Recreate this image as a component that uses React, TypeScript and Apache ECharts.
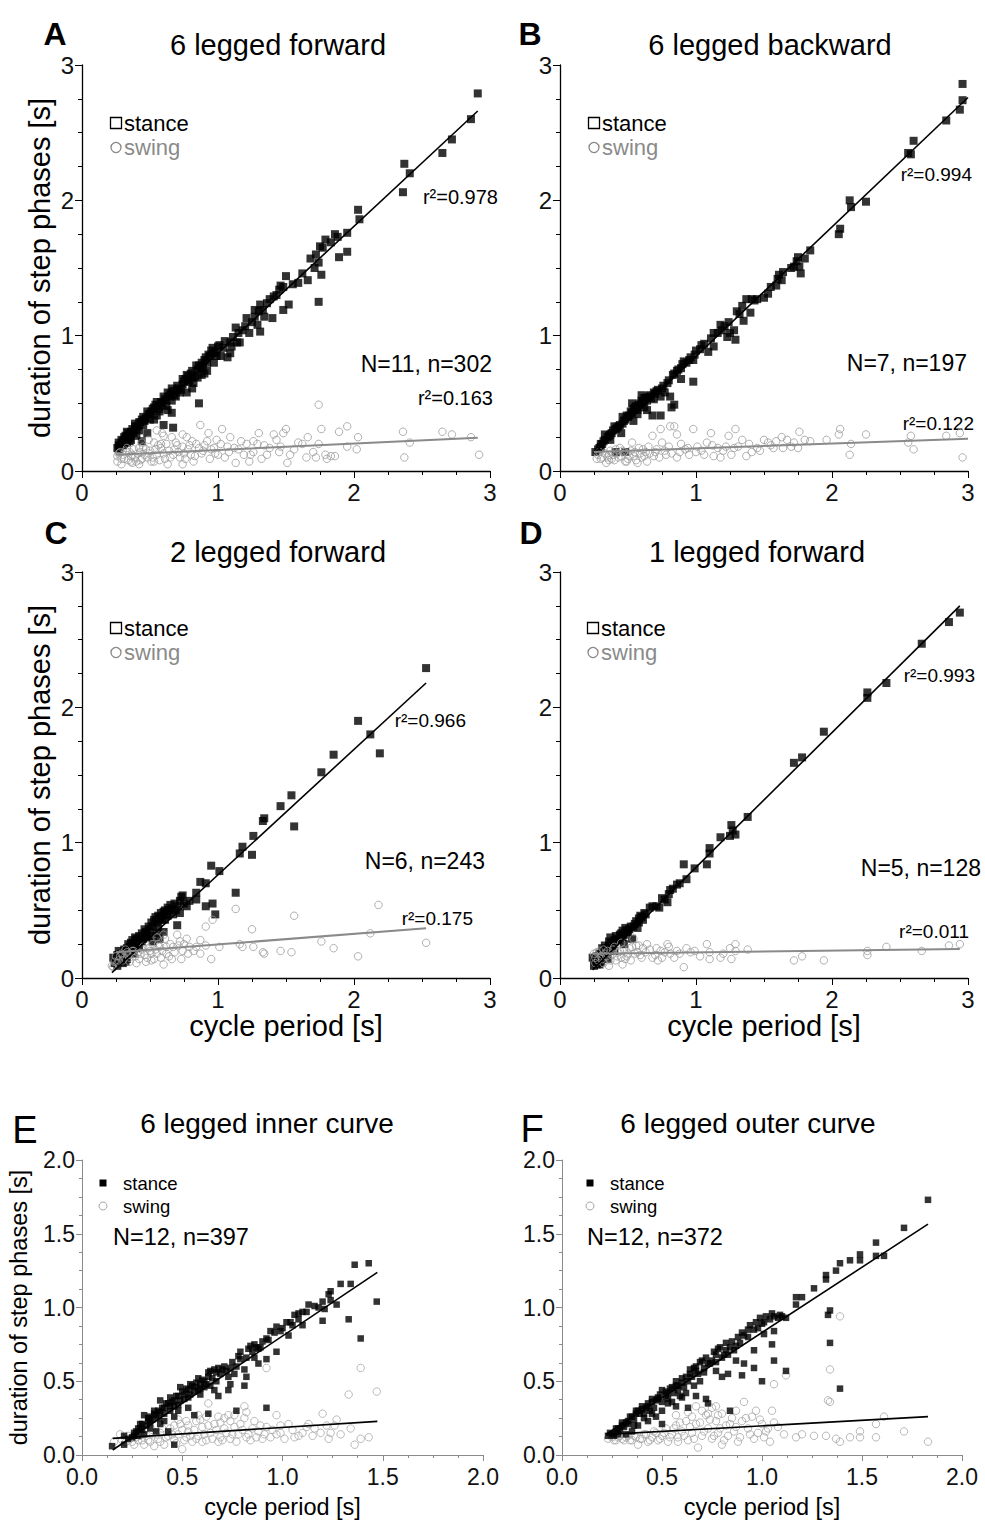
import React, { useEffect, useRef } from "react";
import * as echarts from "echarts";

const FONT = '"Liberation Sans", Arial, Helvetica, sans-serif';

// ---------- Panel A: 6 legged forward ----------
const aStance = [
  [2.91,2.79],[2.86,2.60],[2.72,2.45],[2.65,2.35],[2.37,2.27],[2.41,2.20],[2.36,2.06],[2.03,1.93],[2.04,1.86],[1.95,1.76],
  [1.86,1.75],[1.88,1.73],[1.89,1.58],[1.95,1.62],[1.79,1.71],[1.75,1.66],[1.72,1.60],[1.77,1.65],[1.74,1.54],[1.71,1.50],
  [1.76,1.45],[1.74,1.25],[1.66,1.41],[1.59,1.39],[1.50,1.44],[1.48,1.36],[1.45,1.34],[1.41,1.29],[1.38,1.27],[1.36,1.24],
  [1.52,1.23],[1.48,1.19],[1.31,1.23],[1.30,1.18],[1.27,1.19],[1.40,1.13],[1.34,1.14],[1.27,1.14],[1.21,1.13],[1.20,1.07],
  [1.23,1.02],[1.31,1.03],[1.29,1.08],[1.15,1.02],[1.13,1.06],[1.16,0.95],[1.10,0.92],[1.09,0.87],[1.07,0.84],[1.04,0.91],
  [1.00,0.92],[0.98,0.88],[0.97,0.87],[0.94,0.85],[0.92,0.80],[0.89,0.77],[0.87,0.76],[0.85,0.75],[0.81,0.74],[0.78,0.70],
  [0.76,0.68],[0.88,0.71],[0.92,0.74],[0.86,0.50],[0.82,0.65],[0.74,0.64],[0.71,0.61],[0.67,0.59],[0.64,0.55],[0.61,0.53],
  [0.59,0.50],[0.56,0.48],[0.54,0.49],[0.51,0.44],[0.49,0.42],[0.47,0.39],[0.44,0.38],[0.42,0.36],[0.39,0.33],[0.37,0.31],
  [0.34,0.28],[0.32,0.26],[0.29,0.23],[0.27,0.21],[0.26,0.17],[0.28,0.18],[0.66,0.43],[0.67,0.32],[0.60,0.34],[0.48,0.28],
  [0.44,0.22],[0.40,0.26],[0.66,0.52],[0.72,0.58],[0.77,0.58],[0.81,0.61],[0.63,0.45],[0.55,0.41],[0.53,0.38],[0.36,0.23],
  [0.33,0.21],[0.31,0.20],[0.38,0.28],[0.97,0.80],[1.02,0.85],[1.09,0.95],[1.14,0.95],[0.27,0.16],[0.30,0.19],[0.35,0.25],
  [0.30,0.22],[0.32,0.24],[0.34,0.26],[0.36,0.29],[0.41,0.33],[0.43,0.36],[0.45,0.40],[0.46,0.37],[0.50,0.42],[0.52,0.46],
  [0.57,0.46],[0.58,0.51],[0.62,0.52],[0.65,0.57],[0.68,0.56],[0.70,0.63],[0.73,0.60],[0.75,0.66],[0.79,0.67],[0.80,0.72],
  [0.83,0.70],[0.86,0.78],[0.90,0.82],[0.93,0.86],[0.95,0.89],[0.99,0.85],[1.01,0.93],[0.96,0.91],[0.90,0.72],[0.85,0.69],
  [0.78,0.66],[0.69,0.55],[0.62,0.48],[0.57,0.44],[0.50,0.38],[0.45,0.34],[0.42,0.30],[0.35,0.22],[0.29,0.20],[0.27,0.19],
  [0.31,0.25],[0.33,0.29],[0.39,0.35],[0.40,0.31],[0.48,0.44],[0.53,0.47],[0.55,0.51],[0.60,0.55],[0.63,0.58],[0.66,0.61],
  [0.70,0.60],[0.74,0.68],[0.77,0.71],[0.81,0.69],[0.84,0.78],[0.88,0.80],[0.91,0.84],[1.05,0.96],[1.11,0.99],[1.18,1.04],
  [1.25,1.10],[1.33,1.19],[1.43,1.30],[1.46,1.37],[1.55,1.38],[1.62,1.46],[1.68,1.57],[1.83,1.69]
];
const aSwing = [
  [2.92,0.12],[2.86,0.25],[2.72,0.27],[2.65,0.29],[2.41,0.21],[2.37,0.10],[2.36,0.29],[2.03,0.25],[2.02,0.16],[1.95,0.18],
  [1.95,0.33],[1.89,0.29],[1.86,0.11],[1.80,0.09],[1.79,0.12],[1.76,0.31],[1.74,0.49],[1.74,0.20],[1.72,0.10],[1.70,0.14],
  [1.66,0.25],[1.59,0.21],[1.50,0.31],[1.51,0.06],[1.48,0.28],[1.46,0.18],[1.41,0.27],[1.38,0.17],[1.36,0.12],[1.32,0.09],
  [1.30,0.28],[1.29,0.20],[1.26,0.14],[1.23,0.07],[1.21,0.20],[1.19,0.12],[1.15,0.16],[1.13,0.06],[1.09,0.25],[1.07,0.18],
  [1.03,0.31],[1.00,0.12],[0.99,0.23],[0.97,0.17],[0.94,0.09],[0.92,0.22],[0.89,0.15],[0.87,0.34],[0.86,0.17],[0.83,0.11],
  [0.81,0.22],[0.78,0.16],[0.76,0.09],[0.74,0.18],[0.71,0.14],[0.69,0.21],[0.66,0.25],[0.64,0.15],[0.61,0.09],[0.60,0.26],
  [0.58,0.17],[0.55,0.12],[0.53,0.21],[0.50,0.15],[0.48,0.10],[0.45,0.18],[0.43,0.14],[0.40,0.07],[0.38,0.16],[0.36,0.11],
  [0.33,0.17],[0.31,0.09],[0.28,0.14],[0.26,0.07],[0.26,0.11],[0.29,0.05],[0.37,0.06],[0.42,0.05],[0.51,0.07],[0.63,0.05],
  [0.67,0.12],[0.74,0.05],[0.82,0.07],[0.59,0.28],[0.55,0.30],[0.49,0.23],[0.44,0.21],[0.77,0.25],[0.74,0.27],[0.93,0.28],
  [1.12,0.17],[1.26,0.22],[1.45,0.14],[1.56,0.16],[1.83,0.11],[1.65,0.10],
  [0.27,0.13],[0.30,0.12],[0.32,0.15],[0.34,0.08],[0.35,0.14],[0.37,0.12],[0.39,0.10],[0.41,0.13],[0.42,0.17],[0.44,0.09],
  [0.46,0.12],[0.47,0.16],[0.49,0.13],[0.52,0.10],[0.54,0.16],[0.56,0.19],[0.57,0.08],[0.60,0.13],[0.62,0.20],[0.65,0.10],
  [0.68,0.16],[0.70,0.19],[0.72,0.10],[0.75,0.13],[0.79,0.19],[0.80,0.12],[0.84,0.20],[0.88,0.13],[0.90,0.19],[0.95,0.16],
  [0.98,0.13],[1.02,0.20],[1.05,0.10],[1.08,0.14],[1.17,0.22],[1.24,0.12],[1.34,0.19],[1.43,0.23],[1.53,0.12],[1.62,0.20],
  [0.29,0.09],[0.36,0.07],[0.43,0.08],[0.53,0.07],[0.58,0.20]
];
const aStanceLine = [[0.25,0.17],[2.91,2.66]];
const aSwingLine = [[0.25,0.12],[2.91,0.246]];

// ---------- Panel B: 6 legged backward ----------
const bStance = [
  [2.96,2.86],[2.96,2.74],[2.94,2.67],[2.84,2.59],[2.60,2.44],[2.58,2.34],[2.56,2.35],[2.25,1.99],[2.13,2.00],[2.14,1.95],
  [2.06,1.79],[2.05,1.75],[1.84,1.63],[1.80,1.57],[1.75,1.58],[1.76,1.51],[1.77,1.46],[1.72,1.51],[1.64,1.47],[1.63,1.41],
  [1.60,1.42],[1.59,1.37],[1.53,1.31],[1.50,1.28],[1.45,1.27],[1.41,1.27],[1.37,1.27],[1.40,1.17],[1.34,1.22],[1.30,1.18],
  [1.35,1.11],[1.28,1.04],[1.29,0.97],[1.25,1.02],[1.23,0.99],[1.19,1.04],[1.18,1.08],[1.13,1.02],[1.13,0.92],[1.09,0.88],
  [1.04,0.93],[1.03,0.90],[0.99,0.86],[0.98,0.82],[0.95,0.82],[0.91,0.81],[0.89,0.76],[0.86,0.74],[0.84,0.72],[0.98,0.66],
  [0.89,0.68],[0.79,0.65],[0.75,0.61],[0.71,0.59],[0.69,0.58],[0.65,0.55],[0.63,0.54],[0.60,0.52],[0.81,0.55],[0.84,0.49],
  [0.82,0.47],[0.74,0.41],[0.68,0.41],[0.58,0.49],[0.55,0.47],[0.53,0.43],[0.51,0.41],[0.48,0.38],[0.46,0.35],[0.43,0.33],
  [0.41,0.31],[0.38,0.28],[0.36,0.26],[0.33,0.23],[0.31,0.20],[0.29,0.17],[0.26,0.14],[0.33,0.27],[0.41,0.14],[0.48,0.14],
  [0.49,0.41],[0.57,0.42],[0.64,0.45],[0.69,0.53],[0.74,0.55],[0.77,0.58],[0.62,0.47],[0.54,0.37],[0.45,0.28],[0.37,0.23],
  [0.30,0.18],
  [0.28,0.16],[0.30,0.20],[0.32,0.22],[0.35,0.25],[0.37,0.27],[0.39,0.30],[0.42,0.32],[0.44,0.34],[0.47,0.37],[0.50,0.40],
  [0.52,0.44],[0.54,0.46],[0.56,0.48],[0.59,0.50],[0.61,0.51],[0.62,0.54],[0.64,0.52],[0.66,0.56],[0.67,0.54],[0.70,0.57],
  [0.72,0.60],[0.76,0.63],[0.80,0.67],[0.83,0.71],[0.87,0.75],[0.90,0.79],[0.93,0.80],[0.96,0.84],[1.00,0.89],[1.06,0.94],
  [1.11,0.98],[1.16,1.02],[1.21,1.07],[1.24,1.10],[1.32,1.16],[1.43,1.26],[1.55,1.36],[1.61,1.45],[1.70,1.50],[1.74,1.55],
  [0.57,0.45],[0.53,0.50],[0.60,0.56],[0.46,0.40],[0.40,0.33]
];
const bSwing = [
  [2.96,0.10],[2.94,0.28],[2.84,0.26],[2.60,0.16],[2.58,0.26],[2.56,0.21],[2.25,0.27],[2.13,0.12],[2.14,0.20],[2.06,0.31],
  [2.05,0.27],[1.84,0.22],[1.80,0.23],[1.76,0.29],[1.75,0.17],[1.72,0.21],[1.64,0.17],[1.63,0.25],[1.59,0.22],[1.53,0.21],
  [1.50,0.23],[1.45,0.17],[1.41,0.14],[1.37,0.11],[1.34,0.23],[1.29,0.31],[1.26,0.12],[1.24,0.26],[1.22,0.18],[1.18,0.10],
  [1.13,0.11],[1.11,0.28],[1.08,0.21],[1.04,0.15],[1.01,0.18],[0.98,0.31],[0.95,0.12],[0.92,0.16],[0.89,0.20],[0.86,0.27],
  [0.84,0.33],[0.81,0.33],[0.80,0.18],[0.78,0.12],[0.75,0.21],[0.74,0.31],[0.71,0.16],[0.69,0.11],[0.68,0.26],[0.65,0.18],
  [0.63,0.14],[0.60,0.10],[0.58,0.17],[0.55,0.14],[0.53,0.21],[0.51,0.11],[0.48,0.07],[0.46,0.15],[0.43,0.10],[0.41,0.16],
  [0.38,0.09],[0.36,0.12],[0.34,0.06],[0.31,0.10],[0.29,0.14],[0.27,0.09],[0.49,0.07],[0.57,0.06],[0.64,0.07],[0.86,0.10],
  [1.16,0.17],[1.31,0.18],[1.47,0.15],[1.57,0.17],[1.67,0.23],[1.96,0.23],
  [0.28,0.12],[0.30,0.09],[0.33,0.13],[0.35,0.10],[0.37,0.15],[0.39,0.12],[0.40,0.08],[0.42,0.13],[0.45,0.11],[0.47,0.14],
  [0.50,0.09],[0.52,0.15],[0.54,0.11],[0.56,0.08],[0.59,0.13],[0.61,0.16],[0.62,0.11],[0.66,0.13],[0.70,0.14],[0.73,0.10],
  [0.77,0.15],[0.82,0.13],[0.88,0.14],[0.94,0.17],[1.00,0.14],[1.06,0.12],[1.12,0.19],[1.20,0.15],[1.28,0.17],[1.39,0.20],
  [1.55,0.19],[1.70,0.18],[0.44,0.17],[0.36,0.08]
];
const bStanceLine = [[0.25,0.13],[3.0,2.76]];
const bSwingLine = [[0.25,0.14],[3.0,0.238]];

// ---------- Panel C: 2 legged forward ----------
const cStance = [
  [2.53,2.29],[2.03,1.90],[2.12,1.80],[2.19,1.66],[1.85,1.65],[1.76,1.52],[1.54,1.35],[1.46,1.27],[1.56,1.12],[1.34,1.18],
  [1.33,1.16],[1.26,1.05],[1.18,0.97],[1.16,0.92],[1.25,0.91],[1.13,0.63],[1.01,0.79],[0.95,0.83],[0.91,0.70],[0.87,0.71],
  [0.84,0.63],[0.96,0.55],[0.91,0.53],[0.98,0.47],[0.79,0.57],[0.74,0.61],[0.72,0.57],[0.70,0.53],[0.66,0.51],[0.63,0.52],
  [0.60,0.49],[0.72,0.48],[0.70,0.39],[0.61,0.43],[0.57,0.44],[0.55,0.41],[0.52,0.38],[0.50,0.35],[0.60,0.34],[0.48,0.32],
  [0.45,0.29],[0.40,0.29],[0.38,0.25],[0.35,0.23],[0.32,0.19],[0.28,0.15],[0.23,0.15],[0.24,0.11],[0.30,0.11],[0.27,0.20],
  [0.55,0.33],[0.57,0.29],[0.52,0.27],[0.42,0.23],[0.38,0.18],[0.33,0.14],[0.63,0.46],[0.67,0.47],[0.77,0.53],[0.84,0.58],
  [0.25,0.13],[0.26,0.17],[0.29,0.18],[0.31,0.21],[0.33,0.22],[0.34,0.25],[0.36,0.26],[0.37,0.28],[0.39,0.30],[0.41,0.26],
  [0.42,0.31],[0.44,0.33],[0.46,0.36],[0.47,0.34],[0.49,0.38],[0.51,0.41],[0.53,0.43],[0.54,0.45],[0.56,0.46],[0.58,0.48],
  [0.59,0.43],[0.61,0.50],[0.62,0.47],[0.64,0.50],[0.65,0.54],[0.68,0.55],[0.69,0.50],[0.73,0.60],[0.75,0.55],[0.56,0.38],
  [0.50,0.31],[0.44,0.27],[0.36,0.20],[0.29,0.13],[0.26,0.09],[0.32,0.12],[0.40,0.22],[0.47,0.30]
];
const cSwing = [
  [2.53,0.26],[2.18,0.54],[2.12,0.33],[2.03,0.16],[1.85,0.22],[1.76,0.27],[1.56,0.46],[1.54,0.19],[1.46,0.20],[1.34,0.18],
  [1.33,0.19],[1.26,0.23],[1.25,0.36],[1.18,0.23],[1.16,0.25],[1.13,0.51],[1.01,0.23],[0.95,0.14],[0.96,0.43],[0.91,0.38],
  [0.91,0.24],[0.87,0.18],[0.84,0.23],[0.79,0.23],[0.77,0.29],[0.74,0.20],[0.72,0.27],[0.70,0.32],[0.67,0.23],[0.65,0.25],
  [0.62,0.18],[0.60,0.10],[0.57,0.23],[0.55,0.18],[0.52,0.25],[0.50,0.20],[0.48,0.15],[0.45,0.23],[0.43,0.18],[0.40,0.11],
  [0.38,0.20],[0.35,0.15],[0.33,0.19],[0.30,0.13],[0.28,0.16],[0.26,0.11],[0.23,0.08],[0.22,0.09],[0.51,0.13],[0.66,0.14],
  [0.73,0.14],[0.87,0.28],[0.61,0.29],
  [0.24,0.12],[0.25,0.16],[0.27,0.13],[0.29,0.18],[0.31,0.15],[0.32,0.21],[0.34,0.17],[0.35,0.12],[0.37,0.20],[0.39,0.16],
  [0.41,0.19],[0.42,0.14],[0.44,0.21],[0.46,0.17],[0.47,0.12],[0.49,0.22],[0.51,0.18],[0.53,0.14],[0.54,0.21],[0.56,0.25],
  [0.58,0.15],[0.59,0.20],[0.62,0.23],[0.64,0.16],[0.68,0.19],[0.71,0.24],[0.75,0.25],[0.78,0.18],[0.82,0.20],[0.55,0.30],
  [0.60,0.32]
];
const cStanceLine = [[0.22,0.04],[2.53,2.18]];
const cSwingLine = [[0.25,0.19],[2.53,0.367]];

// ---------- Panel D: 1 legged forward ----------
const dStance = [
  [2.94,2.70],[2.86,2.63],[2.66,2.47],[2.40,2.18],[2.26,2.11],[2.26,2.07],[1.94,1.82],[1.78,1.63],[1.72,1.59],[1.38,1.19],
  [1.29,1.06],[1.27,1.09],[1.26,1.13],[1.25,1.05],[1.18,1.04],[1.10,0.92],[1.10,0.96],[1.08,0.84],[0.99,0.81],[0.93,0.73],
  [0.91,0.84],[0.88,0.70],[0.86,0.69],[0.81,0.65],[0.80,0.62],[0.79,0.56],[0.75,0.59],[0.71,0.53],[0.68,0.53],[0.63,0.47],
  [0.61,0.43],[0.59,0.46],[0.58,0.41],[0.57,0.37],[0.54,0.38],[0.52,0.38],[0.50,0.34],[0.48,0.37],[0.46,0.35],[0.44,0.32],
  [0.42,0.29],[0.40,0.28],[0.37,0.30],[0.36,0.27],[0.33,0.24],[0.31,0.22],[0.29,0.18],[0.26,0.14],[0.24,0.15],[0.25,0.09],
  [0.29,0.10],[0.35,0.14],[0.40,0.20],[0.47,0.25],[0.53,0.29],[0.47,0.32],
  [0.26,0.12],[0.27,0.16],[0.28,0.13],[0.30,0.17],[0.32,0.20],[0.33,0.18],[0.34,0.22],[0.36,0.24],[0.38,0.26],[0.39,0.24],
  [0.41,0.31],[0.43,0.28],[0.45,0.33],[0.46,0.30],[0.49,0.35],[0.51,0.36],[0.55,0.40],[0.56,0.42],[0.58,0.44],[0.60,0.45],
  [0.62,0.48],[0.66,0.52],[0.73,0.52],[0.77,0.58],[0.83,0.66],[0.30,0.12],[0.27,0.10],[0.34,0.17]
];
const dSwing = [
  [2.94,0.25],[2.86,0.24],[2.66,0.20],[2.40,0.23],[2.26,0.20],[2.26,0.17],[1.94,0.13],[1.78,0.16],[1.72,0.13],[1.38,0.21],
  [1.29,0.25],[1.29,0.20],[1.26,0.14],[1.25,0.22],[1.18,0.15],[1.10,0.19],[1.10,0.14],[1.08,0.25],[0.99,0.20],[0.93,0.22],
  [0.91,0.08],[0.88,0.18],[0.86,0.20],[0.81,0.18],[0.80,0.23],[0.79,0.25],[0.75,0.15],[0.74,0.20],[0.71,0.22],[0.68,0.15],
  [0.64,0.25],[0.61,0.22],[0.60,0.15],[0.58,0.24],[0.57,0.19],[0.54,0.29],[0.53,0.23],[0.50,0.18],[0.48,0.14],[0.46,0.10],
  [0.44,0.20],[0.42,0.16],[0.40,0.23],[0.37,0.13],[0.36,0.09],[0.33,0.18],[0.31,0.14],[0.29,0.20],[0.26,0.11],[0.25,0.18],
  [0.26,0.15],[0.27,0.19],[0.28,0.13],[0.30,0.16],[0.32,0.11],[0.32,0.21],[0.34,0.16],[0.35,0.20],[0.38,0.17],[0.39,0.21],
  [0.41,0.13],[0.43,0.19],[0.45,0.15],[0.47,0.21],[0.49,0.16],[0.51,0.22],[0.52,0.13],[0.55,0.18],[0.56,0.24],[0.59,0.17],
  [0.63,0.19],[0.66,0.21],[0.70,0.17],[0.72,0.13],[0.77,0.19],[0.84,0.15],[0.96,0.19],[1.03,0.16],[1.20,0.18],[0.45,0.26]
];
const dStanceLine = [[0.24,0.06],[2.94,2.75]];
const dSwingLine = [[0.24,0.18],[2.94,0.215]];

// ---------- Panel E: 6 legged inner curve ----------
const eStance = [
  [1.36,1.29],[1.43,1.30],[1.47,1.04],[1.29,1.16],[1.34,1.16],[1.33,0.92],[1.39,0.79],[1.24,1.11],[1.23,1.09],[1.24,1.05],
  [1.27,1.02],[1.20,1.04],[1.20,0.91],[1.16,1.01],[1.13,1.02],[1.10,0.97],[1.10,0.88],[1.06,0.95],[1.04,0.90],[1.03,0.81],
  [0.99,0.84],[0.97,0.87],[0.94,0.84],[0.92,0.79],[0.97,0.70],[0.90,0.77],[0.88,0.72],[0.87,0.73],[0.84,0.74],[0.83,0.72],
  [0.88,0.62],[0.92,0.65],[0.79,0.65],[0.78,0.67],[0.81,0.58],[0.81,0.47],[0.82,0.53],[0.74,0.59],[0.73,0.53],[0.70,0.58],
  [0.68,0.59],[0.67,0.56],[0.64,0.57],[0.63,0.53],[0.61,0.50],[0.59,0.48],[0.58,0.52],[0.56,0.46],[0.54,0.48],[0.53,0.44],
  [0.51,0.41],[0.49,0.46],[0.48,0.40],[0.46,0.37],[0.44,0.39],[0.43,0.35],[0.41,0.32],[0.39,0.37],[0.38,0.30],[0.36,0.28],
  [0.34,0.26],[0.33,0.23],[0.31,0.27],[0.29,0.21],[0.28,0.18],[0.26,0.15],[0.25,0.12],[0.21,0.13],[0.21,0.07],[0.15,0.06],
  [0.37,0.16],[0.43,0.16],[0.46,0.07],[0.56,0.27],[0.63,0.28],[0.77,0.30],[0.92,0.32],[0.68,0.40],[0.66,0.44],[0.59,0.41],
  [0.53,0.32],[0.48,0.30],[0.46,0.26],[0.41,0.23],[0.39,0.21],[0.34,0.18],[0.31,0.14],[0.28,0.13],[0.76,0.55],[0.86,0.66],
  [1.02,0.90],[1.08,0.92],[0.73,0.44],[0.74,0.48],
  [0.27,0.16],[0.29,0.18],[0.30,0.21],[0.32,0.20],[0.33,0.25],[0.35,0.24],[0.36,0.30],[0.37,0.27],[0.39,0.29],[0.40,0.32],
  [0.41,0.28],[0.42,0.35],[0.44,0.33],[0.45,0.36],[0.46,0.33],[0.47,0.40],[0.49,0.37],[0.50,0.43],[0.51,0.38],[0.52,0.45],
  [0.54,0.41],[0.55,0.47],[0.56,0.43],[0.57,0.49],[0.59,0.45],[0.60,0.51],[0.62,0.48],[0.63,0.56],[0.65,0.52],[0.66,0.58],
  [0.67,0.50],[0.69,0.55],[0.71,0.60],[0.72,0.57],[0.75,0.63],[0.77,0.60],[0.79,0.70],[0.82,0.66],[0.85,0.70],[0.86,0.75],
  [0.89,0.73],[0.93,0.78],[0.96,0.83],[1.00,0.86],[1.05,0.88],[1.08,0.96],[1.12,0.97],[1.18,1.00],[1.21,0.99],[0.44,0.30],
  [0.48,0.34],[0.53,0.39],[0.58,0.44],[0.61,0.46],[0.64,0.47],[0.38,0.25],[0.34,0.22],[0.30,0.17],[0.26,0.13],[0.23,0.11]
];
const eSwing = [
  [1.47,0.43],[1.39,0.59],[1.33,0.41],[1.34,0.18],[1.36,0.07],[1.43,0.12],[1.29,0.14],[1.27,0.24],[1.24,0.15],[1.23,0.11],
  [1.20,0.28],[1.19,0.15],[1.16,0.18],[1.13,0.21],[1.10,0.15],[1.06,0.12],[1.03,0.21],[0.99,0.15],[0.97,0.14],[0.97,0.27],
  [0.94,0.12],[0.92,0.19],[0.92,0.59],[0.90,0.11],[0.88,0.16],[0.86,0.23],[0.84,0.10],[0.83,0.14],[0.81,0.33],[0.79,0.21],
  [0.78,0.14],[0.76,0.19],[0.74,0.11],[0.73,0.27],[0.71,0.18],[0.69,0.12],[0.68,0.09],[0.66,0.21],[0.64,0.15],[0.63,0.35],
  [0.62,0.10],[0.60,0.19],[0.58,0.13],[0.57,0.23],[0.55,0.09],[0.53,0.16],[0.52,0.12],[0.50,0.04],[0.49,0.21],[0.48,0.14],
  [0.46,0.10],[0.44,0.18],[0.43,0.13],[0.41,0.07],[0.39,0.15],[0.38,0.11],[0.36,0.06],[0.34,0.14],[0.33,0.10],[0.31,0.07],
  [0.29,0.13],[0.28,0.10],[0.26,0.07],[0.24,0.11],[0.22,0.09],[0.19,0.14],[0.16,0.09],[0.58,0.27],[0.52,0.23],[0.76,0.27],
  [0.99,0.20],[1.26,0.20],[1.39,0.11],[0.68,0.26],[0.82,0.29],
  [0.20,0.10],[0.23,0.13],[0.25,0.09],[0.27,0.12],[0.30,0.10],[0.32,0.13],[0.34,0.09],[0.35,0.17],[0.37,0.14],[0.39,0.09],
  [0.40,0.18],[0.42,0.12],[0.45,0.14],[0.46,0.20],[0.47,0.08],[0.50,0.17],[0.51,0.10],[0.53,0.20],[0.54,0.13],[0.56,0.17],
  [0.57,0.11],[0.59,0.24],[0.60,0.09],[0.61,0.14],[0.63,0.20],[0.65,0.11],[0.67,0.17],[0.69,0.22],[0.70,0.10],[0.72,0.15],
  [0.74,0.23],[0.75,0.14],[0.77,0.09],[0.80,0.17],[0.82,0.12],[0.85,0.18],[0.87,0.12],[0.89,0.20],[0.91,0.14],[0.95,0.17],
  [1.01,0.11],[1.05,0.17],[1.08,0.13],[1.12,0.19],[1.15,0.13],[1.22,0.20],[0.81,0.25],[0.71,0.25],[0.62,0.26],[0.48,0.24]
];
const eStanceLine = [[0.153,0.034],[1.473,1.238]];
const eSwingLine = [[0.153,0.113],[1.473,0.228]];

// ---------- Panel F: 6 legged outer curve ----------
const fStance = [
  [1.83,1.73],[1.71,1.54],[1.57,1.44],[1.57,1.35],[1.61,1.35],[1.49,1.36],[1.49,1.32],[1.44,1.32],[1.39,1.30],[1.37,1.25],
  [1.32,1.22],[1.32,1.19],[1.26,1.13],[1.20,1.07],[1.17,1.07],[1.17,1.02],[1.34,0.98],[1.33,0.95],[1.34,0.76],[1.39,0.45],
  [1.12,0.93],[1.09,0.95],[1.06,0.94],[1.06,0.84],[1.05,0.75],[1.06,0.64],[1.12,0.57],[1.04,0.92],[1.01,0.90],[1.00,0.89],
  [0.98,0.86],[1.01,0.82],[1.00,0.50],[0.96,0.85],[0.93,0.85],[0.93,0.80],[0.90,0.83],[0.89,0.76],[0.96,0.71],[0.91,0.62],
  [0.96,0.59],[0.90,0.54],[0.87,0.74],[0.84,0.73],[0.83,0.68],[0.82,0.71],[0.80,0.66],[0.78,0.72],[0.77,0.68],[0.75,0.64],
  [0.73,0.62],[0.71,0.59],[0.69,0.63],[0.67,0.57],[0.66,0.59],[0.64,0.55],[0.83,0.55],[0.80,0.53],[0.77,0.57],[0.72,0.38],
  [0.73,0.35],[0.67,0.40],[0.63,0.32],[0.57,0.33],[0.62,0.53],[0.60,0.49],[0.58,0.47],[0.57,0.50],[0.55,0.46],[0.53,0.42],
  [0.52,0.40],[0.50,0.44],[0.48,0.39],[0.47,0.37],[0.45,0.38],[0.43,0.35],[0.42,0.32],[0.40,0.33],[0.38,0.30],[0.37,0.28],
  [0.35,0.26],[0.33,0.23],[0.32,0.22],[0.30,0.20],[0.28,0.18],[0.27,0.16],[0.25,0.14],[0.23,0.13],[0.50,0.21],[0.47,0.26],
  [0.43,0.23],[0.38,0.20],[0.35,0.16],[0.32,0.14],[0.84,0.30],[0.50,0.30],[0.53,0.35],[0.60,0.39],[0.87,0.64],
  [0.24,0.15],[0.26,0.13],[0.27,0.18],[0.29,0.17],[0.30,0.22],[0.31,0.19],[0.33,0.21],[0.34,0.26],[0.36,0.24],[0.37,0.30],
  [0.39,0.28],[0.40,0.31],[0.41,0.28],[0.43,0.33],[0.44,0.30],[0.45,0.36],[0.46,0.32],[0.48,0.38],[0.49,0.41],[0.50,0.36],
  [0.52,0.43],[0.53,0.38],[0.54,0.45],[0.56,0.42],[0.57,0.47],[0.58,0.44],[0.60,0.52],[0.61,0.46],[0.63,0.50],[0.64,0.58],
  [0.65,0.53],[0.67,0.60],[0.68,0.55],[0.70,0.64],[0.71,0.56],[0.72,0.66],[0.74,0.62],[0.76,0.70],[0.77,0.63],[0.79,0.73],
  [0.81,0.68],[0.82,0.76],[0.85,0.77],[0.86,0.71],[0.88,0.80],[0.91,0.81],[0.94,0.88],[0.97,0.90],[0.99,0.93],[1.02,0.94],
  [1.05,0.96],[1.08,0.93],[1.10,0.94],[0.55,0.36],[0.59,0.40],[0.62,0.42],[0.66,0.47],[0.69,0.50],[0.45,0.28],[0.41,0.25],
  [0.36,0.20],[0.28,0.14]
];
const fSwing = [
  [1.83,0.09],[1.71,0.16],[1.61,0.26],[1.57,0.21],[1.57,0.12],[1.49,0.16],[1.49,0.12],[1.44,0.12],[1.39,0.94],[1.39,0.09],
  [1.37,0.11],[1.34,0.58],[1.33,0.37],[1.34,0.36],[1.32,0.13],[1.26,0.13],[1.20,0.14],[1.17,0.12],[1.12,0.54],[1.06,0.48],
  [1.06,0.22],[1.05,0.30],[1.03,0.18],[1.01,0.12],[1.00,0.21],[0.98,0.15],[0.97,0.30],[0.96,0.11],[0.93,0.18],[0.91,0.36],
  [0.90,0.23],[0.88,0.09],[0.86,0.16],[0.85,0.25],[0.83,0.13],[0.82,0.20],[0.80,0.07],[0.78,0.15],[0.77,0.23],[0.75,0.11],
  [0.73,0.18],[0.72,0.27],[0.70,0.13],[0.68,0.05],[0.67,0.21],[0.65,0.15],[0.63,0.10],[0.62,0.23],[0.60,0.16],[0.58,0.12],
  [0.57,0.20],[0.55,0.14],[0.53,0.09],[0.52,0.18],[0.50,0.13],[0.48,0.10],[0.47,0.15],[0.45,0.12],[0.43,0.09],[0.42,0.14],
  [0.40,0.11],[0.38,0.07],[0.37,0.12],[0.35,0.10],[0.33,0.13],[0.31,0.10],[0.28,0.12],[0.26,0.10],[0.23,0.11],[0.67,0.33],
  [0.77,0.33],[0.87,0.30],[0.63,0.29],[0.80,0.28],[0.95,0.26],[0.73,0.28],
  [0.25,0.12],[0.27,0.10],[0.29,0.13],[0.30,0.11],[0.32,0.12],[0.34,0.10],[0.36,0.13],[0.39,0.11],[0.41,0.14],[0.44,0.10],
  [0.46,0.16],[0.49,0.11],[0.51,0.15],[0.54,0.12],[0.56,0.18],[0.58,0.09],[0.59,0.22],[0.61,0.13],[0.64,0.19],[0.66,0.11],
  [0.69,0.22],[0.71,0.16],[0.74,0.24],[0.76,0.13],[0.78,0.27],[0.79,0.18],[0.81,0.10],[0.84,0.21],[0.87,0.19],[0.89,0.12],
  [0.92,0.25],[0.94,0.14],[0.99,0.24],[1.02,0.16],[1.04,0.09],[1.08,0.19],[1.11,0.14],[0.70,0.30],[0.75,0.32],[0.65,0.26],
  [0.57,0.27]
];
const fStanceLine = [[0.22,0.14],[1.83,1.565]];
const fSwingLine = [[0.23,0.14],[1.83,0.26]];

// ---------- panel texts ----------
const panelLetters = ["A", "B", "C", "D", "E", "F"];
const panelTitles = ["6 legged forward", "6 legged backward", "2 legged forward", "1 legged forward", "6 legged inner curve", "6 legged outer curve"];
const sampleLabels = ["N=11, n=302", "N=7, n=197", "N=6, n=243", "N=5, n=128", "N=12, n=397", "N=12, n=372"];
const stanceR2 = ["r²=0.978", "r²=0.994", "r²=0.966", "r²=0.993"];
const swingR2 = ["r²=0.163", "r²=0.122", "r²=0.175", "r²=0.011"];
const yAxisName = "duration of step phases [s]";
const xAxisName = "cycle period [s]";
const legendNames = ["stance", "swing"];

type Panel = {
  grid: { left: number; top: number; width: number; height: number };
  big: boolean;
  yName: boolean;
  xName: boolean;
  stance: number[][];
  swing: number[][];
  stanceLine: number[][];
  swingLine: number[][];
};

const panels: Panel[] = [
  { grid: { left: 82, top: 65, width: 408, height: 406 }, big: true, yName: true, xName: false, stance: aStance, swing: aSwing, stanceLine: aStanceLine, swingLine: aSwingLine },
  { grid: { left: 560, top: 65, width: 408, height: 406 }, big: true, yName: false, xName: false, stance: bStance, swing: bSwing, stanceLine: bStanceLine, swingLine: bSwingLine },
  { grid: { left: 82, top: 572, width: 408, height: 406 }, big: true, yName: true, xName: true, stance: cStance, swing: cSwing, stanceLine: cStanceLine, swingLine: cSwingLine },
  { grid: { left: 560, top: 572, width: 408, height: 406 }, big: true, yName: false, xName: true, stance: dStance, swing: dSwing, stanceLine: dStanceLine, swingLine: dSwingLine },
  { grid: { left: 82, top: 1160, width: 401, height: 295 }, big: false, yName: true, xName: true, stance: eStance, swing: eSwing, stanceLine: eStanceLine, swingLine: eSwingLine },
  { grid: { left: 562, top: 1160, width: 400, height: 295 }, big: false, yName: false, xName: true, stance: fStance, swing: fSwing, stanceLine: fStanceLine, swingLine: fSwingLine },
];

function txt(x: number, y: number, text: string, size: number, opts: any = {}) {
  const align = opts.align || "left";
  return {
    type: "text",
    x,
    y,
    silent: true,
    style: {
      text,
      fontSize: size,
      fontFamily: FONT,
      fontWeight: opts.weight || "normal",
      fill: opts.fill || "#000",
      align,
      textAlign: align,
      verticalAlign: "middle",
      textVerticalAlign: "middle",
    },
  };
}

function buildOption() {
  const grid: any[] = [];
  const xAxis: any[] = [];
  const yAxis: any[] = [];
  const series: any[] = [];

  panels.forEach((p, i) => {
    grid.push({ ...p.grid, containLabel: false });
    const axisColor = p.big ? "#000" : "#8a8a8a";
    const max = p.big ? 3 : 2;
    const interval = p.big ? 1 : 0.5;
    const labelSize = p.big ? 24 : 23;
    const fmt = p.big ? (v: number) => String(v) : (v: number) => v.toFixed(1);
    const common = {
      gridIndex: i,
      type: "value",
      min: 0,
      max,
      interval,
      axisLine: { show: true, onZero: false, lineStyle: { color: axisColor, width: p.big ? 1.3 : 1 } },
      axisTick: { show: true, inside: false, length: p.big ? 7 : 6, lineStyle: { color: axisColor, width: 1 } },
      minorTick: { show: true, splitNumber: 4, length: p.big ? 4 : 3, lineStyle: { color: axisColor, width: 1 } },
      splitLine: { show: false },
      minorSplitLine: { show: false },
    };
    xAxis.push({
      ...common,
      axisLabel: { color: "#111", fontSize: labelSize, fontFamily: FONT, margin: p.big ? 9 : 10, formatter: fmt },
      name: p.xName ? xAxisName : "",
      nameLocation: "middle",
      nameGap: p.big ? 29 : 40,
      nameTextStyle: { color: "#000", fontSize: p.big ? 29 : 23.5, fontFamily: FONT },
    });
    yAxis.push({
      ...common,
      axisLabel: { color: "#111", fontSize: labelSize, fontFamily: FONT, margin: p.big ? 8 : 7, formatter: fmt },
      name: p.yName ? yAxisName : "",
      nameLocation: "middle",
      nameGap: p.big ? 28 : 51,
      nameTextStyle: { color: "#000", fontSize: p.big ? 29 : 23.5, fontFamily: FONT },
    });

    const stanceSeries = {
      type: "scatter",
      xAxisIndex: i,
      yAxisIndex: i,
      data: p.stance,
      symbol: "rect",
      symbolSize: p.big ? 8 : 6.5,
      itemStyle: { color: "#000" },
      silent: true,
      z: 3,
    };
    const swingSeries = {
      type: "scatter",
      xAxisIndex: i,
      yAxisIndex: i,
      data: p.swing,
      symbol: "circle",
      symbolSize: p.big ? 7.5 : 7.5,
      itemStyle: { color: "rgba(255,255,255,0)", borderColor: p.big ? "#9c9c9c" : "#a8a8a8", borderWidth: 1 },
      silent: true,
      z: 3,
    };
    if (p.big) {
      series.push(stanceSeries, swingSeries);
    } else {
      series.push(swingSeries, stanceSeries);
    }
    series.push({
      type: "line",
      xAxisIndex: i,
      yAxisIndex: i,
      data: p.stanceLine,
      symbol: "none",
      showSymbol: false,
      lineStyle: { color: "#000", width: 1.6 },
      silent: true,
      z: 5,
    });
    series.push({
      type: "line",
      xAxisIndex: i,
      yAxisIndex: i,
      data: p.swingLine,
      symbol: "none",
      showSymbol: false,
      lineStyle: { color: p.big ? "#8a8a8a" : "#000", width: p.big ? 2 : 1.6 },
      silent: true,
      z: 5,
    });
  });

  const g: any[] = [];
  const letterPos = [[55, 34], [530, 34], [56, 533], [531, 533], [25, 1130], [532, 1129]];
  letterPos.forEach((pos, i) => {
    const big = i < 4;
    g.push(txt(pos[0], pos[1], panelLetters[i], big ? 32 : 38, { align: "center", weight: big ? "bold" : "normal" }));
  });
  const titlePos = [[278, 45], [770, 45], [278, 552], [757, 552], [267, 1123], [748, 1123]];
  titlePos.forEach((pos, i) => g.push(txt(pos[0], pos[1], panelTitles[i], i < 4 ? 29 : 28, { align: "center" })));

  // legends A-D
  const legPos = [[110, 123, 147], [588, 123, 147], [110, 628, 652], [587, 628, 652]];
  legPos.forEach((l) => {
    g.push({ type: "rect", silent: true, shape: { x: l[0] + 0.5, y: l[1] - 5.5, width: 11, height: 11 }, style: { fill: "none", stroke: "#000", lineWidth: 1.3 } });
    g.push(txt(l[0] + 14, l[1], legendNames[0], 22));
    g.push({ type: "circle", silent: true, shape: { cx: l[0] + 6, cy: l[2] + 0.5, r: 5 }, style: { fill: "none", stroke: "#8a8a8a", lineWidth: 1.3 } });
    g.push(txt(l[0] + 14, l[2], legendNames[1], 22, { fill: "#8a8a8a" }));
  });
  // legends E-F
  const legPos2 = [[103, 1183, 1206], [590, 1183, 1206]];
  legPos2.forEach((l) => {
    g.push({ type: "rect", silent: true, shape: { x: l[0] - 3.5, y: l[1] - 3.5, width: 7, height: 7 }, style: { fill: "#000" } });
    g.push(txt(l[0] + 20, l[1], legendNames[0], 18.5));
    g.push({ type: "circle", silent: true, shape: { cx: l[0], cy: l[2], r: 4 }, style: { fill: "none", stroke: "#a8a8a8", lineWidth: 1 } });
    g.push(txt(l[0] + 20, l[2], legendNames[1], 18.5));
  });

  // sample sizes
  g.push(txt(492, 364, sampleLabels[0], 23, { align: "right" }));
  g.push(txt(967, 363, sampleLabels[1], 23, { align: "right" }));
  g.push(txt(485, 861, sampleLabels[2], 23, { align: "right" }));
  g.push(txt(981, 868, sampleLabels[3], 23, { align: "right" }));
  g.push(txt(113, 1237, sampleLabels[4], 23.5));
  g.push(txt(587, 1237, sampleLabels[5], 23.5));

  // r2 labels
  g.push(txt(498, 197, stanceR2[0], 20, { align: "right" }));
  g.push(txt(493, 398, swingR2[0], 20, { align: "right" }));
  g.push(txt(972, 174, stanceR2[1], 19, { align: "right" }));
  g.push(txt(974, 423, swingR2[1], 19, { align: "right" }));
  g.push(txt(466, 720, stanceR2[2], 19, { align: "right" }));
  g.push(txt(473, 918, swingR2[2], 19, { align: "right" }));
  g.push(txt(975, 675, stanceR2[3], 19, { align: "right" }));
  g.push(txt(969, 931, swingR2[3], 19, { align: "right" }));

  return {
    animation: false,
    backgroundColor: "#fff",
    textStyle: { fontFamily: FONT },
    grid,
    xAxis,
    yAxis,
    series,
    graphic: g,
  };
}

export default function App() {
  const ref = useRef<HTMLDivElement>(null);
  useEffect(() => {
    const chart = echarts.init(ref.current!, null, { renderer: "svg" });
    chart.setOption(buildOption() as any);
    return () => chart.dispose();
  }, []);
  return (
    <div
      ref={ref}
      style={{ position: "absolute", left: 0, top: 0, width: 985, height: 1524, background: "#fff" }}
    />
  );
}
